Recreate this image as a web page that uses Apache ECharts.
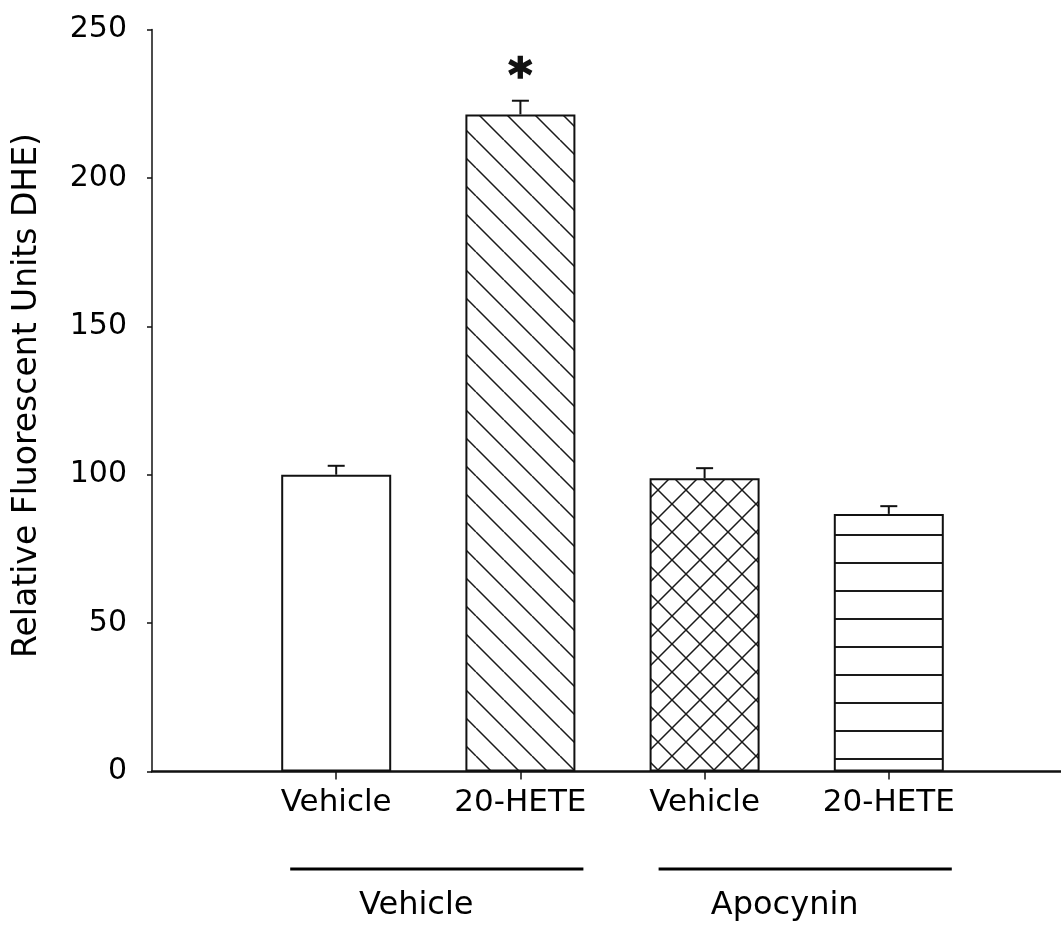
<!DOCTYPE html>
<html>
<head>
<meta charset="utf-8">
<script src="https://cdn.jsdelivr.net/npm/echarts@6/dist/echarts.min.js"></script>
<style>
  html, body { margin: 0; padding: 0; background: #fff; }
  #chart { width: 1061px; height: 926px; }
</style>
</head>
<body>
<div id="chart"></div>
<script>
// Treatment categories and measured DHE fluorescence (mean, SEM)
const categories = ['Vehicle', '20-HETE', 'Vehicle', '20-HETE'];
const values = [100, 221.4, 98.8, 86.8];
const errors = [3, 4.6, 3.4, 2.6];
const marks = ['', '*', '', ''];
// Pre-treatment groups and which categories belong to each
const groups = ['Vehicle', 'Apocynin'];
const groupMembers = [[0, 1], [2, 3]];
const yTicks = [0, 50, 100, 150, 200, 250];
const yTitle = 'Relative Fluorescent Units DHE)';

const FONT = 'DejaVu Sans';
const INK = '#111';

// Hatch fills drawn onto small tiles and repeated inside the bars
function hatch(kind) {
  const s = 28;
  const c = document.createElement('canvas');
  c.width = s; c.height = s;
  const g = c.getContext('2d');
  g.fillStyle = '#fff';
  g.fillRect(0, 0, s, s);
  g.strokeStyle = '#1a1a1a';
  g.lineWidth = kind === 'horiz' ? 2 : 1.5;
  g.beginPath();
  if (kind === 'back' || kind === 'cross') {
    for (const o of [-s, 0, s]) { g.moveTo(o, 0); g.lineTo(o + s, s); }
  }
  if (kind === 'cross') {
    for (const o of [0, s, 2 * s]) { g.moveTo(o, 0); g.lineTo(o - s, s); }
  }
  if (kind === 'horiz') { g.moveTo(0, 3); g.lineTo(s, 3); }
  g.stroke();
  return c;
}
const fills = [
  '#ffffff',
  { image: hatch('back'), repeat: 'repeat' },
  { image: hatch('cross'), repeat: 'repeat' },
  { image: hatch('horiz'), repeat: 'repeat' }
];

const chart = echarts.init(document.getElementById('chart'), null, { renderer: 'canvas' });

chart.setOption({
  animation: false,
  backgroundColor: '#fff',
  grid: { left: 152, right: -12, top: 29.5, bottom: 154.5, outerBoundsMode: 'none' },
  xAxis: {
    type: 'category',
    data: [''].concat(categories, ['']),
    boundaryGap: false,
    axisLine: { lineStyle: { color: INK, width: 2.5 } },
    axisTick: { length: 8, lineStyle: { color: INK, width: 1.5 }, interval: (i, v) => v !== '' },
    axisLabel: { interval: 0, margin: 16, color: '#000', fontFamily: FONT, fontSize: 31 },
    splitLine: { show: false }
  },
  yAxis: {
    type: 'value',
    min: yTicks[0],
    max: yTicks[yTicks.length - 1],
    interval: yTicks[1] - yTicks[0],
    name: yTitle,
    nameLocation: 'middle',
    nameGap: 108,
    nameTextStyle: { fontFamily: FONT, fontSize: 33, color: '#000', padding: [0, 0, 0, 10] },
    axisLine: { show: true, lineStyle: { color: INK, width: 1.5 } },
    axisTick: { show: true, length: 5, lineStyle: { color: INK, width: 1.5 } },
    axisLabel: { margin: 25, color: '#000', fontFamily: FONT, fontSize: 30 },
    splitLine: { show: false }
  },
  series: [
    {
      type: 'bar',
      barWidth: 110,
      data: values.map((v, i) => ({
        value: [i + 1, v],
        itemStyle: { color: fills[i], borderColor: INK, borderWidth: 2 }
      }))
    },
    {
      type: 'custom',
      z: 5,
      data: values.map((v, i) => [i + 1, v, errors[i]]),
      renderItem(params, api) {
        const x = api.value(0), v = api.value(1), e = api.value(2);
        const base = api.coord([x, v]);
        const top = api.coord([x, v + e]);
        const half = 8.5;
        const line = { stroke: INK, lineWidth: 2 };
        const children = [
          { type: 'line', shape: { x1: base[0], y1: base[1], x2: top[0], y2: top[1] }, style: line },
          { type: 'line', shape: { x1: top[0] - half, y1: top[1], x2: top[0] + half, y2: top[1] }, style: line }
        ];
        const m = marks[params.dataIndex];
        if (m) {
          children.push({
            type: 'text', x: top[0], y: top[1] - 22,
            style: { text: m, font: 'bold 46px "DejaVu Sans"', fill: INK, align: 'center', verticalAlign: 'middle',
                     stroke: INK, lineWidth: 1.5 }
          });
        }
        return { type: 'group', children };
      }
    }
  ]
});

// Group brackets under the category labels
const gfx = [];
groups.forEach((name, g) => {
  const mem = groupMembers[g];
  const x0 = chart.convertToPixel({ gridIndex: 0 }, [mem[0] + 1, 0])[0];
  const x1 = chart.convertToPixel({ gridIndex: 0 }, [mem[mem.length - 1] + 1, 0])[0];
  gfx.push({ type: 'line', shape: { x1: x0 - 46, y1: 869, x2: x1 + 63, y2: 869 }, style: { stroke: '#000', lineWidth: 3 } });
  gfx.push({
    type: 'text', x: (x0 + x1) / 2 - 12, y: 906,
    style: { text: name, font: '32px "DejaVu Sans"', fill: '#000', align: 'center', verticalAlign: 'middle' }
  });
});
chart.setOption({ graphic: gfx });
</script>
</body>
</html>
